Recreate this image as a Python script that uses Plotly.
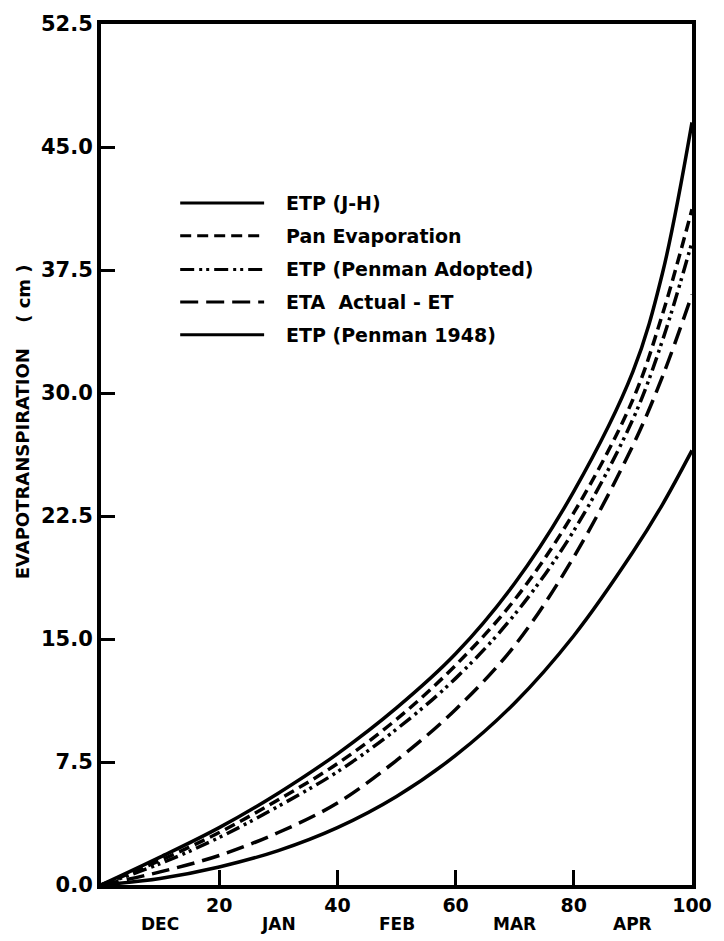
import plotly.graph_objects as go

# Days from 1 December (cumulative) and cumulative evapotranspiration in cm
days = [0, 10, 20, 30, 40, 50, 60, 70, 80, 90, 95, 100]
etp_jh = [0, 1.7, 3.5, 5.6, 8.0, 10.8, 14.1, 18.4, 24.0, 31.3, 37.3, 46.5]
pan_evap = [0, 1.5, 3.2, 5.2, 7.4, 10.1, 13.4, 17.4, 22.7, 29.6, 34.8, 41.2]
etp_penman_adopted = [0, 1.3, 2.9, 4.8, 6.9, 9.5, 12.6, 16.5, 21.6, 28.4, 33.2, 39.2]
eta_actual = [0, 0.8, 1.8, 3.2, 5.0, 7.6, 10.7, 14.6, 20.0, 26.8, 31.0, 36.0]
etp_penman_1948 = [0, 0.4, 1.1, 2.1, 3.5, 5.4, 7.9, 11.1, 15.2, 20.3, 23.2, 26.5]

y_ticks = [0, 7.5, 15, 22.5, 30, 37.5, 45, 52.5]
y_tick_text = ["0.0", "7.5", "15.0", "22.5", "30.0", "37.5", "45.0", "52.5"]
x_ticks = [20, 40, 60, 80, 100]
months = ["DEC", "JAN", "FEB", "MAR", "APR"]
month_pos = [10, 30, 50, 70, 90]

series = [
    ("ETP (J-H)", etp_jh, "solid"),
    ("Pan Evaporation", pan_evap, "11px,6px"),
    ("ETP (Penman Adopted)", etp_penman_adopted, "14px,5px,3px,4px,3px,5px"),
    ("ETA  Actual - ET", eta_actual, "18px,8px"),
    ("ETP (Penman 1948)", etp_penman_1948, "solid"),
]

fig = go.Figure()
for name, vals, dash in series:
    fig.add_trace(go.Scatter(
        x=days, y=vals, mode="lines", name=name, showlegend=False,
        line=dict(color="black", width=3.5, dash=dash, shape="spline", smoothing=1.0),
    ))

# Hand-drawn style legend inside the plot area
legend_rows = [0.792, 0.754, 0.715, 0.677, 0.639]
for (name, _, dash), ly in zip(series, legend_rows):
    fig.add_shape(type="line", xref="paper", yref="paper",
                  x0=0.134, x1=0.276, y0=ly, y1=ly,
                  line=dict(color="black", width=3, dash=dash))
    fig.add_annotation(xref="paper", yref="paper", x=0.31, y=ly,
                       text=name, showarrow=False, xanchor="left", yanchor="middle",
                       font=dict(family="DejaVu Sans", size=19, color="black", weight="bold"))

for m, p in zip(months, month_pos):
    fig.add_annotation(xref="x", yref="paper", x=p, y=0, text=m, showarrow=False,
                       xanchor="center", yanchor="middle", yshift=-39,
                       font=dict(family="DejaVu Sans", size=17, color="black", weight="bold"))

title_font = dict(family="DejaVu Sans", size=18, color="black", weight="bold")
fig.add_annotation(xref="paper", yref="paper", x=(22 - 101) / 597, y=(885 - 462) / 864,
                   text="EVAPOTRANSPIRATION", textangle=-90, showarrow=False,
                   xanchor="center", yanchor="middle", font=title_font)
fig.add_annotation(xref="paper", yref="paper", x=(22 - 101) / 597, y=(885 - 292) / 864,
                   text="( cm )", textangle=-90, showarrow=False,
                   xanchor="center", yanchor="middle", font=title_font)

fig.update_xaxes(range=[0, 100], tickvals=x_ticks, ticks="inside", ticklen=15, tickwidth=3,
                 tickcolor="black", showline=True, linewidth=4, linecolor="black", mirror=True,
                 showgrid=False, zeroline=False,
                 tickfont=dict(family="DejaVu Sans", size=19, color="black", weight="bold"))
fig.update_yaxes(range=[0, 52.5], tickvals=y_ticks, ticktext=y_tick_text, ticks="inside",
                 ticklen=14, tickwidth=3, tickcolor="black", showline=True, linewidth=4,
                 linecolor="black", mirror=True, showgrid=False, zeroline=False,
                 tickfont=dict(family="DejaVu Sans", size=21, color="black", weight="bold"))

fig.update_layout(width=724, height=941, margin=dict(l=101, r=27, t=21, b=56),
                  plot_bgcolor="white", paper_bgcolor="white")

fig.write_html("out.html")
